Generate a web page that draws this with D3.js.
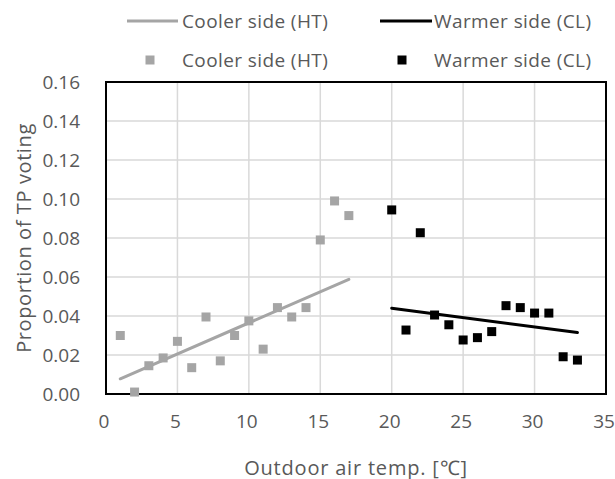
<!DOCTYPE html>
<html>
<head>
<meta charset="utf-8">
<script src="https://cdn.jsdelivr.net/npm/d3@7/dist/d3.min.js"></script>
<style>
  html, body { margin: 0; padding: 0; background: #ffffff; }
  svg { display: block; }
  text { font-family: "Open Sans", "Liberation Sans", sans-serif; fill: #595959; }
</style>
</head>
<body>
<svg id="chart" width="615" height="479"></svg>
<script>
// Cooler side (HT): outdoor temperature [°C] and proportion of TP votes
const tempHT = [1, 2, 3, 4, 5, 6, 7, 8, 9, 10, 11, 12, 13, 14, 15, 16, 17];
const propHT = [0.030, 0.001, 0.0145, 0.0185, 0.027, 0.0135, 0.0395, 0.017, 0.030,
                0.0375, 0.023, 0.0443, 0.0395, 0.0443, 0.079, 0.099, 0.0915];

// Warmer side (CL)
const tempCL = [20, 21, 22, 23, 24, 25, 26, 27, 28, 29, 30, 31, 32, 33];
const propCL = [0.0944, 0.0328, 0.0827, 0.0405, 0.0355, 0.0277, 0.0289, 0.032,
                0.0453, 0.0443, 0.0415, 0.0415, 0.0191, 0.0174];

// Linear trend lines (end points)
const trendTempHT = [1, 17];
const trendPropHT = [0.0078, 0.0588];
const trendTempCL = [20, 33];
const trendPropCL = [0.0440, 0.0315];

// Axis ticks
const xTicks = [0, 5, 10, 15, 20, 25, 30, 35];
const yTicks = [0, 0.02, 0.04, 0.06, 0.08, 0.10, 0.12, 0.14, 0.16];

const seriesNames = ["Cooler side (HT)", "Warmer side (CL)"];
const grayColor = "#a5a5a5";
const blackColor = "#000000";

const svg = d3.select("#chart");
const plot = { left: 106, right: 606, top: 82, bottom: 394 };

const x = d3.scaleLinear().domain([0, 35]).range([plot.left, plot.right]);
const y = d3.scaleLinear().domain([0, 0.16]).range([plot.bottom, plot.top]);

// Gridlines
const grid = svg.append("g");
grid.selectAll("line.v").data(xTicks).join("line")
  .attr("x1", d => x(d)).attr("x2", d => x(d))
  .attr("y1", plot.top).attr("y2", plot.bottom)
  .attr("stroke", "#d9d9d9").attr("stroke-width", 1.5);
grid.selectAll("line.h").data(yTicks).join("line")
  .attr("x1", plot.left).attr("x2", plot.right)
  .attr("y1", d => y(d)).attr("y2", d => y(d))
  .attr("stroke", "#d9d9d9").attr("stroke-width", 1.5);

// Plot border
svg.append("rect")
  .attr("x", plot.left).attr("y", plot.top)
  .attr("width", plot.right - plot.left).attr("height", plot.bottom - plot.top)
  .attr("fill", "none").attr("stroke", "#000").attr("stroke-width", 2);

// Tick labels via d3 axes
const xAxis = svg.append("g")
  .attr("transform", `translate(0,${plot.bottom})`)
  .call(d3.axisBottom(x).tickValues(xTicks).tickSize(0).tickFormat(d3.format("d")));
xAxis.select(".domain").remove();
xAxis.selectAll("text").attr("font-size", 19).attr("fill", "#595959")
  .attr("font-family", "'Open Sans', sans-serif")
  .attr("dy", "0.32em").attr("y", 28).attr("dx", -2.5);

const yAxis = svg.append("g")
  .attr("transform", `translate(${plot.left},0)`)
  .call(d3.axisLeft(y).tickValues(yTicks).tickSize(0).tickPadding(26).tickFormat(d3.format(".2f")));
yAxis.select(".domain").remove();
yAxis.selectAll("text").attr("font-size", 19).attr("fill", "#595959")
  .attr("font-family", "'Open Sans', sans-serif");

// Axis titles
svg.append("text")
  .attr("x", (plot.left + plot.right) / 2).attr("y", 467)
  .attr("text-anchor", "middle").attr("dominant-baseline", "central")
  .attr("font-size", 20).attr("letter-spacing", 0.8)
  .text("Outdoor air temp. [℃]");

svg.append("text")
  .attr("transform", `translate(23,${(plot.top + plot.bottom) / 2}) rotate(-90)`)
  .attr("text-anchor", "middle").attr("dominant-baseline", "central")
  .attr("font-size", 20).attr("letter-spacing", 0.6)
  .text("Proportion of TP voting");

// Trend lines
const line = d3.line().x(d => x(d[0])).y(d => y(d[1]));
svg.append("path")
  .datum(d3.zip(trendTempHT, trendPropHT))
  .attr("d", line).attr("fill", "none")
  .attr("stroke", grayColor).attr("stroke-width", 3).attr("stroke-linecap", "round");
svg.append("path")
  .datum(d3.zip(trendTempCL, trendPropCL))
  .attr("d", line).attr("fill", "none")
  .attr("stroke", blackColor).attr("stroke-width", 3).attr("stroke-linecap", "round");

// Markers
const ms = 9;
svg.append("g").selectAll("rect")
  .data(d3.zip(tempHT, propHT)).join("rect")
  .attr("x", d => x(d[0]) - ms / 2).attr("y", d => y(d[1]) - ms / 2)
  .attr("width", ms).attr("height", ms).attr("fill", grayColor);
svg.append("g").selectAll("rect")
  .data(d3.zip(tempCL, propCL)).join("rect")
  .attr("x", d => x(d[0]) - ms / 2).attr("y", d => y(d[1]) - ms / 2)
  .attr("width", ms).attr("height", ms).attr("fill", blackColor);

// Legend
const legend = svg.append("g");
const legendLines = [
  { x1: 127, x2: 178, tx: 182, color: grayColor, name: seriesNames[0] },
  { x1: 380, x2: 432, tx: 434, color: blackColor, name: seriesNames[1] }
];
const legendMarks = [
  { cx: 150, tx: 182, color: grayColor, name: seriesNames[0] },
  { cx: 402, tx: 434, color: blackColor, name: seriesNames[1] }
];
const row1 = 21, row2 = 60;
legendLines.forEach(l => {
  legend.append("line").attr("x1", l.x1).attr("x2", l.x2)
    .attr("y1", row1).attr("y2", row1)
    .attr("stroke", l.color).attr("stroke-width", 3);
  legend.append("text").attr("x", l.tx).attr("y", row1)
    .attr("dominant-baseline", "central").attr("font-size", 19)
    .attr("letter-spacing", 0.4).text(l.name);
});
legendMarks.forEach(m => {
  legend.append("rect").attr("x", m.cx - ms / 2).attr("y", row2 - ms / 2)
    .attr("width", ms).attr("height", ms).attr("fill", m.color);
  legend.append("text").attr("x", m.tx).attr("y", row2)
    .attr("dominant-baseline", "central").attr("font-size", 19)
    .attr("letter-spacing", 0.4).text(m.name);
});
</script>
</body>
</html>
